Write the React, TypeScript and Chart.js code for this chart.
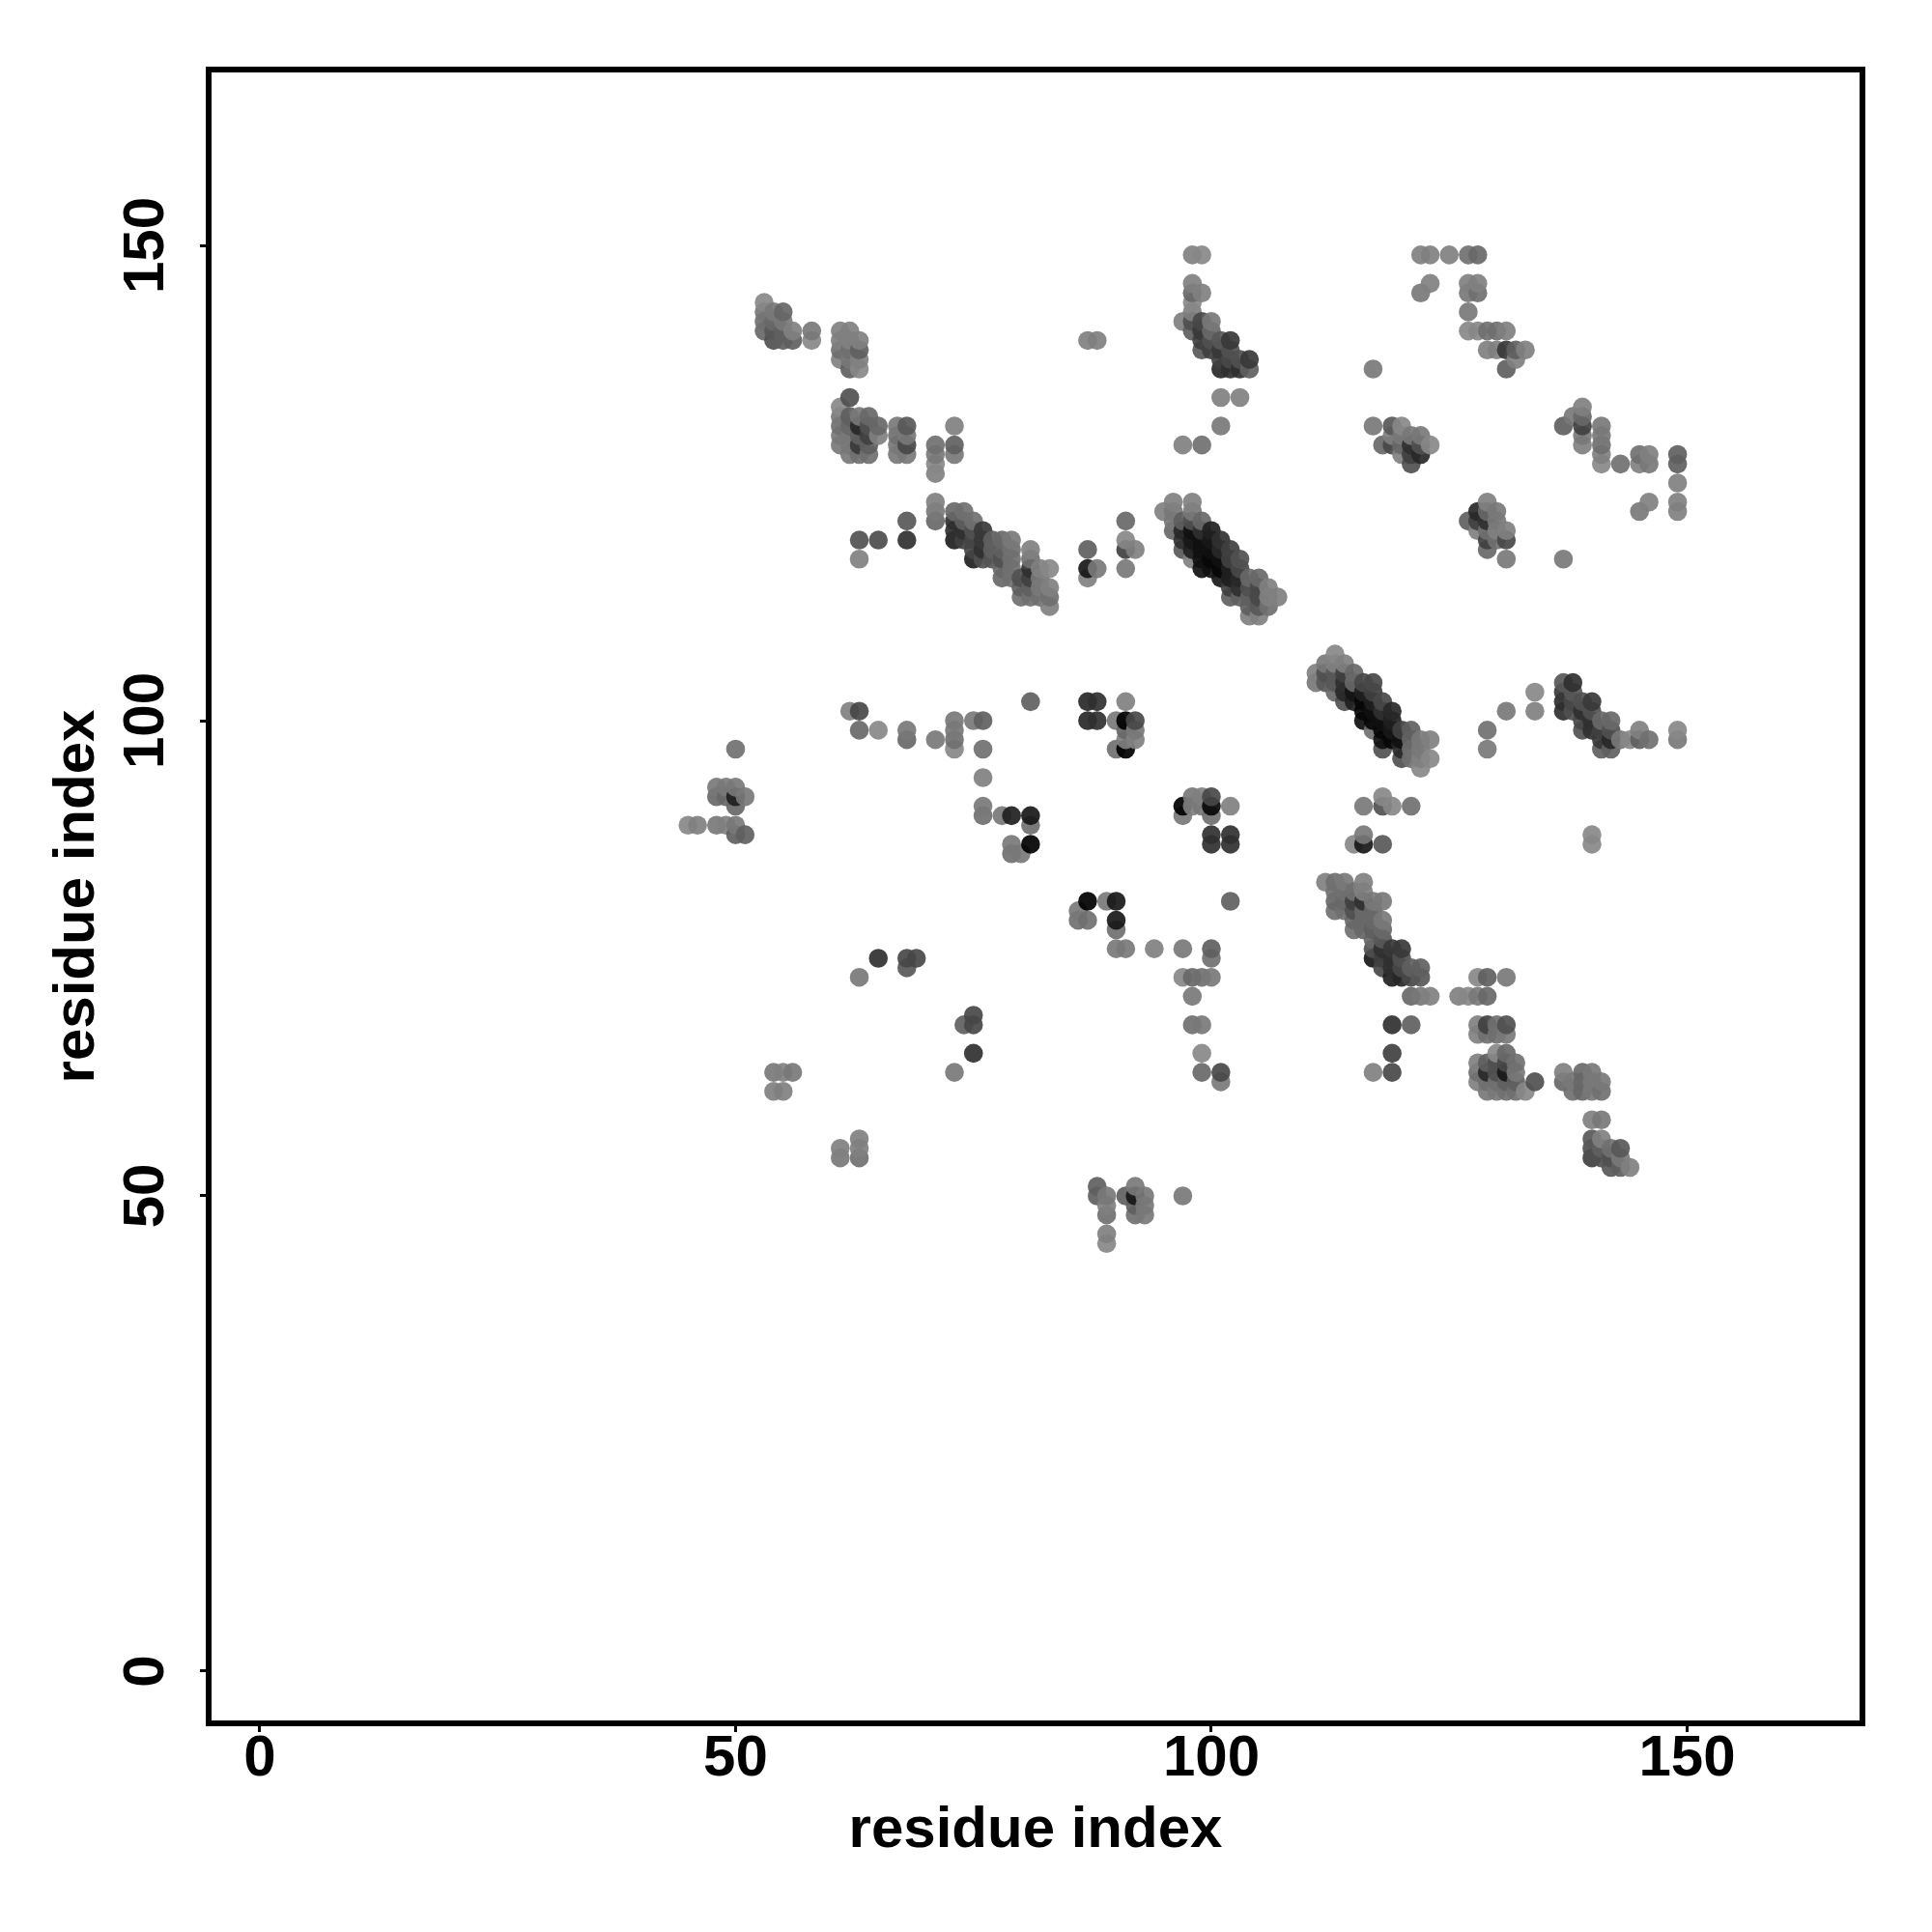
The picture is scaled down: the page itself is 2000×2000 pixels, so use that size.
import React, { useEffect, useRef } from "react";
import { Chart, registerables } from "chart.js";

Chart.register(...registerables);

type Contact = [number, number, number]; // residue x, residue y, grey level

const tickValues = [0, 50, 100, 150];
const axisTitle = "residue index";

const helixA: Contact[] = [
  [53,144,0x88],[53,143,0x75],[53,142,0x70],[53,141,0x68],[54,143,0x78],[54,142,0x68],[54,141,0x58],[54,140,0x50],
  [55,143,0x66],[55,142,0x78],[55,141,0x60],[55,140,0x60],[56,141,0x80],[56,140,0x60],[58,141,0x78],[58,140,0x88],
  [87,140,0x80],[88,140,0x80],
  [61,141,0x80],[61,140,0x80],[61,139,0x70],[61,138,0x80],[62,141,0x80],[62,140,0x80],[62,139,0x70],[62,138,0x78],[62,137,0x60],
  [63,140,0x80],[63,139,0x60],[63,138,0x80],[63,137,0x88],
];
const helixB: Contact[] = [
  [62,134,0x50],[61,133,0x88],[61,132,0x78],[61,131,0x70],[61,130,0x78],[61,129,0x78],
  [62,132,0x60],[62,131,0x68],[62,130,0x78],[62,129,0x78],[62,128,0x78],
  [63,132,0x78],[63,131,0x28],[63,130,0x60],[63,129,0x38],[63,128,0x70],
  [64,132,0x68],[64,131,0x50],[64,130,0x40],[64,129,0x60],[64,128,0x70],[65,131,0x68],[65,130,0x80],
  [67,131,0x78],[67,130,0x70],[67,129,0x78],[67,128,0x78],[68,131,0x58],[68,130,0x78],[68,129,0x48],[68,128,0x78],
  [71,129,0x70],[71,128,0x78],[71,127,0x88],[71,126,0x80],[73,131,0x80],[73,129,0x60],[73,128,0x78],
];
const diagonalUpperLeft: Contact[] = [
  [71,123,0x80],[71,122,0x78],[71,121,0x68],[73,122,0x68],[73,121,0x30],[73,120,0x30],[73,119,0x20],
  [74,122,0x70],[74,121,0x60],[74,120,0x30],[74,119,0x40],[75,121,0x70],[75,120,0x50],[75,119,0x45],[75,118,0x45],[75,117,0x20],
  [76,120,0x38],[76,119,0x38],[76,118,0x30],[76,117,0x50],[77,119,0x60],[77,118,0x60],[77,117,0x55],
  [78,119,0x68],[78,118,0x60],[78,117,0x50],[78,116,0x68],[78,115,0x68],[79,119,0x78],[79,118,0x70],[79,117,0x70],[79,116,0x70],[79,115,0x70],
  [80,115,0x50],[80,114,0x60],[80,113,0x70],[81,118,0x80],[81,117,0x70],[81,116,0x30],[81,115,0x40],[81,114,0x60],[81,113,0x70],
  [82,116,0x80],[82,115,0x78],[82,114,0x78],[82,113,0x70],[83,116,0x88],[83,114,0x80],[83,113,0x70],[83,112,0x80],
  [63,119,0x50],[65,119,0x4c],[68,119,0x30],[68,121,0x58],[63,117,0x80],[87,118,0x60],[87,116,0x18],[87,115,0x80],[88,116,0x78],
  [91,121,0x68],[91,119,0x88],[91,118,0x40],[92,118,0x80],[91,116,0x78],
];
const diagonalUpperMiddle: Contact[] = [
  [98,149,0x80],[99,149,0x88],[98,146,0x80],[99,145,0x80],[98,145,0x68],[98,144,0x88],[98,143,0x80],[97,142,0x80],[98,142,0x50],[98,141,0x60],
  [99,142,0x48],[99,141,0x38],[99,140,0x40],[99,139,0x58],[100,142,0x78],[100,141,0x68],[100,140,0x50],[100,139,0x40],
  [101,140,0x58],[101,139,0x38],[101,138,0x40],[101,137,0x28],[102,140,0x38],[102,139,0x50],[102,138,0x48],[102,137,0x30],
  [103,138,0x50],[103,137,0x30],[104,138,0x38],[104,137,0x60],[101,134,0x80],[103,134,0x80],[101,131,0x78],[97,129,0x80],[99,129,0x70],
];
const upperRight: Contact[] = [
  [122,149,0x80],[123,149,0x80],[125,149,0x80],[127,149,0x70],[128,149,0x68],[123,146,0x80],[122,145,0x78],
  [127,146,0x80],[127,145,0x78],[127,143,0x78],[128,146,0x80],[128,145,0x70],
  [127,141,0x88],[128,141,0x88],[129,141,0x70],[130,141,0x70],[131,141,0x80],
  [129,139,0x80],[130,139,0x80],[131,139,0x38],[132,139,0x60],[133,139,0x80],[132,138,0x80],[131,137,0x60],[117,137,0x78],
  [117,131,0x78],[119,131,0x58],[120,131,0x88],[118,129,0x68],[119,130,0x80],[119,129,0x48],[120,130,0x78],[120,129,0x68],[120,128,0x80],
  [121,130,0x78],[121,129,0x30],[121,128,0x40],[121,127,0x50],[122,130,0x78],[122,129,0x50],[122,128,0x28],[123,129,0x88],
  [137,131,0x60],[138,132,0x78],[139,133,0x80],[139,132,0x68],[139,131,0x40],[139,130,0x78],[139,129,0x80],
  [141,131,0x78],[141,130,0x78],[141,129,0x70],[141,128,0x80],[141,127,0x88],[143,127,0x70],[145,128,0x70],[145,127,0x80],[146,128,0x80],[146,127,0x78],
  [149,128,0x60],[149,127,0x60],[149,125,0x80],[149,123,0x80],[149,122,0x80],[146,123,0x80],[145,122,0x78],
  [129,123,0x80],[127,121,0x60],[128,122,0x28],[128,121,0x40],[128,120,0x80],[129,122,0x68],[129,121,0x30],[129,120,0x70],[129,119,0x40],[129,118,0x68],
  [130,122,0x78],[130,121,0x78],[130,120,0x80],[130,119,0x70],[131,120,0x80],[131,119,0x48],[131,117,0x78],[137,117,0x78],
];
const mainDiagonalUpper: Contact[] = [
  [95,122,0x80],[96,123,0x80],[96,122,0x78],[96,121,0x78],[96,120,0x68],[97,121,0x60],[97,120,0x28],[97,119,0x30],[97,118,0x58],
  [98,123,0x80],[98,122,0x78],[98,121,0x50],[98,120,0x10],[98,119,0x18],[98,118,0x20],[98,117,0x80],
  [99,121,0x68],[99,120,0x30],[99,119,0x10],[99,118,0x10],[99,117,0x10],[99,116,0x10],
  [100,120,0x20],[100,119,0x18],[100,118,0x10],[100,117,0x08],[100,116,0x10],
  [101,119,0x30],[101,118,0x28],[101,117,0x10],[101,116,0x08],[101,115,0x18],
  [102,118,0x40],[102,117,0x40],[102,116,0x20],[102,115,0x20],[102,114,0x40],[102,113,0x60],
  [103,117,0x50],[103,116,0x48],[103,115,0x28],[103,114,0x30],[103,113,0x60],
  [104,115,0x68],[104,114,0x50],[104,113,0x60],[104,112,0x60],[104,111,0x80],[105,115,0x68],[105,114,0x48],[105,113,0x48],[105,112,0x58],[105,111,0x80],
  [106,114,0x80],[106,113,0x80],[106,112,0x70],[107,113,0x80],
];
const middleLeft: Contact[] = [
  [50,97,0x70],[48,93,0x78],[48,92,0x68],[49,93,0x78],[49,92,0x68],[50,93,0x78],[50,92,0x20],[50,91,0x68],[51,92,0x78],
  [45,89,0x88],[46,89,0x80],[48,89,0x78],[49,89,0x80],[50,89,0x78],[50,88,0x60],[51,88,0x60],
  [81,102,0x60],[62,101,0x80],[63,101,0x48],[63,99,0x68],[65,99,0x88],[68,99,0x78],[68,98,0x68],[71,98,0x78],
  [73,100,0x78],[73,99,0x78],[73,98,0x70],[73,97,0x88],[75,100,0x78],[76,100,0x60],[76,97,0x70],[76,94,0x80],[76,91,0x78],[76,90,0x70],
  [78,90,0x78],[79,90,0x20],[81,90,0x18],[81,89,0x70],[81,87,0x00],[79,87,0x78],[79,86,0x70],[80,86,0x78],
  [87,102,0x28],[88,102,0x30],[87,100,0x28],[88,100,0x30],[91,102,0x80],[90,100,0x78],[91,100,0x00],[92,100,0x48],
  [91,99,0x68],[92,99,0x78],[92,98,0x80],[91,98,0x80],[90,97,0x70],[91,97,0x00],
  [87,81,0x00],[89,81,0x78],[90,81,0x18],[86,80,0x78],[86,79,0x70],[87,79,0x70],[90,79,0x18],[90,78,0x70],[90,76,0x78],[91,76,0x78],
  [65,75,0x30],[68,75,0x48],[69,75,0x48],[68,74,0x58],[63,73,0x78],[75,69,0x48],[75,68,0x48],[74,68,0x60],
];
const mainDiagonalMiddle: Contact[] = [
  [113,107,0x88],[112,106,0x78],[113,106,0x80],[114,106,0x80],[111,105,0x80],[111,104,0x78],[112,105,0x50],[112,104,0x58],
  [113,105,0x58],[113,104,0x58],[113,103,0x68],[114,105,0x40],[114,104,0x30],[114,103,0x28],[114,102,0x50],
  [115,105,0x68],[115,104,0x68],[115,103,0x15],[115,102,0x20],[116,104,0x48],[116,103,0x20],[116,102,0x08],[116,101,0x08],[116,100,0x10],
  [117,104,0x48],[117,103,0x40],[117,102,0x20],[117,101,0x10],[117,100,0x08],[117,99,0x70],
  [118,102,0x48],[118,101,0x30],[118,100,0x10],[118,99,0x08],[118,98,0x10],[118,97,0x50],
  [119,101,0x28],[119,100,0x20],[119,99,0x18],[119,98,0x08],[120,99,0x40],[120,98,0x10],[120,97,0x28],[120,96,0x50],
  [121,99,0x60],[121,98,0x68],[121,97,0x70],[121,96,0x70],[122,98,0x78],[122,97,0x78],[122,96,0x80],[122,95,0x88],[123,98,0x80],[123,96,0x88],
  [129,99,0x70],[129,97,0x78],[131,101,0x78],[134,103,0x88],[134,101,0x80],
  [137,104,0x58],[138,104,0x30],[137,103,0x38],[137,102,0x30],[137,101,0x30],[138,103,0x58],[138,102,0x48],[138,101,0x50],
  [139,102,0x50],[139,101,0x30],[139,100,0x48],[139,99,0x50],[140,102,0x38],[140,101,0x50],[140,100,0x30],[140,99,0x30],
  [141,100,0x68],[141,99,0x40],[141,98,0x38],[141,97,0x60],[142,100,0x68],[142,99,0x50],[142,98,0x28],[142,97,0x60],
  [143,98,0x78],[144,98,0x88],[145,99,0x80],[145,98,0x60],[146,98,0x70],[149,99,0x88],[149,98,0x78],
  [97,91,0x00],[97,90,0x78],[98,92,0x78],[99,92,0x80],[99,91,0x78],[98,91,0x80],[100,92,0x48],[100,91,0x08],[100,90,0x70],[102,91,0x80],
  [100,88,0x30],[100,87,0x30],[102,88,0x30],[102,87,0x30],
  [116,91,0x78],[118,92,0x88],[118,91,0x50],[119,91,0x88],[121,91,0x70],[116,88,0x78],[115,87,0x88],[116,87,0x18],[118,87,0x58],[140,88,0x88],[140,87,0x88],
];
const mainDiagonalLower: Contact[] = [
  [112,83,0x80],[113,83,0x70],[113,82,0x70],[113,81,0x68],[113,80,0x70],[114,83,0x78],[114,82,0x70],[114,81,0x68],[114,80,0x70],
  [115,82,0x70],[115,81,0x40],[115,80,0x50],[115,79,0x68],[115,78,0x70],[116,83,0x80],[116,82,0x80],[116,81,0x30],[116,80,0x68],[116,79,0x68],[116,78,0x68],
  [117,81,0x78],[117,80,0x68],[117,79,0x68],[117,78,0x60],[117,77,0x68],[117,76,0x50],[117,75,0x18],
  [118,81,0x78],[118,79,0x78],[118,78,0x68],[118,77,0x58],[118,76,0x30],[118,75,0x40],[118,74,0x48],
  [119,76,0x38],[119,75,0x30],[119,74,0x30],[119,73,0x20],[120,76,0x38],[120,75,0x50],[120,74,0x48],[120,73,0x28],
  [121,74,0x60],[121,73,0x48],[122,74,0x60],[122,73,0x58],
  [121,71,0x68],[122,71,0x78],[123,71,0x80],[126,71,0x80],[127,71,0x88],[128,71,0x78],[129,71,0x68],[128,73,0x88],[129,73,0x60],[131,73,0x78],
  [98,71,0x78],[97,73,0x88],[98,73,0x68],[99,73,0x70],[100,73,0x78],[97,76,0x78],[94,76,0x80],[100,76,0x60],[100,75,0x70],[102,81,0x60],
  [98,68,0x70],[99,68,0x78],[119,68,0x30],[121,68,0x60],[128,68,0x80],[129,68,0x40],[130,68,0x70],[131,68,0x50],
];
const lowerRight: Contact[] = [
  [99,65,0x88],[99,63,0x68],[101,63,0x48],[101,62,0x78],[119,65,0x40],[119,63,0x48],[117,63,0x80],
  [128,67,0x80],[128,64,0x80],[128,63,0x70],[128,62,0x80],[129,67,0x70],[129,64,0x60],[129,63,0x28],[129,62,0x70],[129,61,0x78],
  [130,67,0x70],[130,65,0x88],[130,64,0x50],[130,63,0x50],[130,62,0x70],[130,61,0x78],[131,67,0x78],[131,65,0x68],[131,64,0x48],[131,63,0x18],[131,62,0x60],[131,61,0x70],
  [132,64,0x70],[132,63,0x78],[132,62,0x60],[132,61,0x70],[133,61,0x88],[134,62,0x50],
  [137,63,0x80],[137,62,0x68],[138,62,0x78],[138,61,0x70],[139,63,0x68],[139,62,0x68],[139,61,0x68],[140,63,0x78],[140,62,0x78],[140,61,0x78],[141,62,0x78],[141,61,0x70],
  [140,58,0x80],[141,58,0x78],[140,56,0x58],[140,55,0x50],[140,54,0x40],[141,56,0x80],[141,55,0x60],[141,54,0x50],
  [142,55,0x70],[142,54,0x50],[142,53,0x58],[143,55,0x58],[143,54,0x78],[143,53,0x60],[144,53,0x80],
];
const lowerLeft: Contact[] = [
  [54,63,0x78],[55,63,0x80],[56,63,0x78],[54,61,0x80],[55,61,0x80],[61,55,0x80],[61,54,0x78],[63,56,0x80],[63,55,0x80],[63,54,0x70],
  [75,65,0x30],[73,63,0x78],[88,51,0x60],[88,50,0x60],[89,50,0x78],[89,49,0x80],[89,48,0x70],[89,46,0x80],[89,45,0x88],
  [91,50,0x60],[92,51,0x78],[92,50,0x18],[92,49,0x60],[92,48,0x70],[93,50,0x78],[93,49,0x78],[93,48,0x78],[97,50,0x78],
];

const contacts: Contact[] = [
  ...helixA, ...helixB, ...diagonalUpperLeft, ...diagonalUpperMiddle, ...upperRight, ...mainDiagonalUpper,
  ...middleLeft, ...mainDiagonalMiddle, ...mainDiagonalLower, ...lowerRight, ...lowerLeft,
].sort((a, b) => a[0] - b[0] || a[1] - b[1]);

const FONT = "'Liberation Sans', Arial, sans-serif";

const framePlugin = {
  id: "frame",
  afterDatasetsDraw(chart: any) {
    const { ctx, chartArea: a } = chart;
    ctx.save();
    ctx.strokeStyle = "#000";
    ctx.lineWidth = 6;
    ctx.lineJoin = "miter";
    ctx.strokeRect(a.left, a.top, a.right - a.left, a.bottom - a.top);
    ctx.restore();
  },
};

export default function App() {
  const ref = useRef<HTMLCanvasElement>(null);
  useEffect(() => {
    const tickFont = { family: FONT, size: 60, weight: "bold" as const, lineHeight: 1 };
    const titleFont = { family: FONT, size: 60, weight: "bold" as const, lineHeight: 1 };
    const setTicks = (axis: any) => {
      axis.ticks = tickValues.map((value) => ({ value }));
    };
    const chart = new Chart(ref.current!, {
      type: "scatter",
      data: {
        datasets: [
          {
            data: contacts.map(([x, y]) => ({ x, y })),
            backgroundColor: contacts.map(([, , g]) => `rgba(${g},${g},${g},0.92)`),
            borderWidth: 0,
            pointRadius: 9.8,
            pointHoverRadius: 9.8,
          },
        ],
      },
      options: {
        animation: false,
        responsive: false,
        devicePixelRatio: 1,
        layout: { padding: { left: 0, top: 72, right: 72, bottom: 0 } },
        plugins: { legend: { display: false }, tooltip: { enabled: false } },
        scales: {
          x: {
            type: "linear",
            min: -5.38,
            max: 168.43,
            afterBuildTicks: setTicks,
            afterFit: (s: any) => { s.height = 216; },
            border: { display: false },
            grid: { drawOnChartArea: false, drawTicks: true, tickLength: 9, tickWidth: 3, tickColor: "#000" },
            ticks: { color: "#000", font: tickFont, padding: -2, maxRotation: 0, minRotation: 0, autoSkip: false },
            title: { display: true, text: axisTitle, color: "#000", font: titleFont, padding: { top: 0, bottom: 75 } },
          },
          y: {
            type: "linear",
            min: -5.49,
            max: 168.5,
            afterBuildTicks: setTicks,
            afterFit: (s: any) => { s.width = 216; },
            border: { display: false },
            grid: { drawOnChartArea: false, drawTicks: true, tickLength: 9, tickWidth: 3, tickColor: "#000" },
            ticks: { color: "#000", font: tickFont, padding: 4, minRotation: 90, maxRotation: 90, crossAlign: "center", autoSkip: false },
            title: { display: true, text: axisTitle, color: "#000", font: titleFont, padding: { top: 50, bottom: 0 } },
          },
        },
      },
      plugins: [framePlugin],
    } as any);
    return () => chart.destroy();
  }, []);
  return (
    <div style={{ position: "absolute", left: 0, top: 0, width: 2000, height: 2000, background: "#fff" }}>
      <canvas ref={ref} width={2000} height={2000} style={{ display: "block", width: 2000, height: 2000 }} />
    </div>
  );
}
